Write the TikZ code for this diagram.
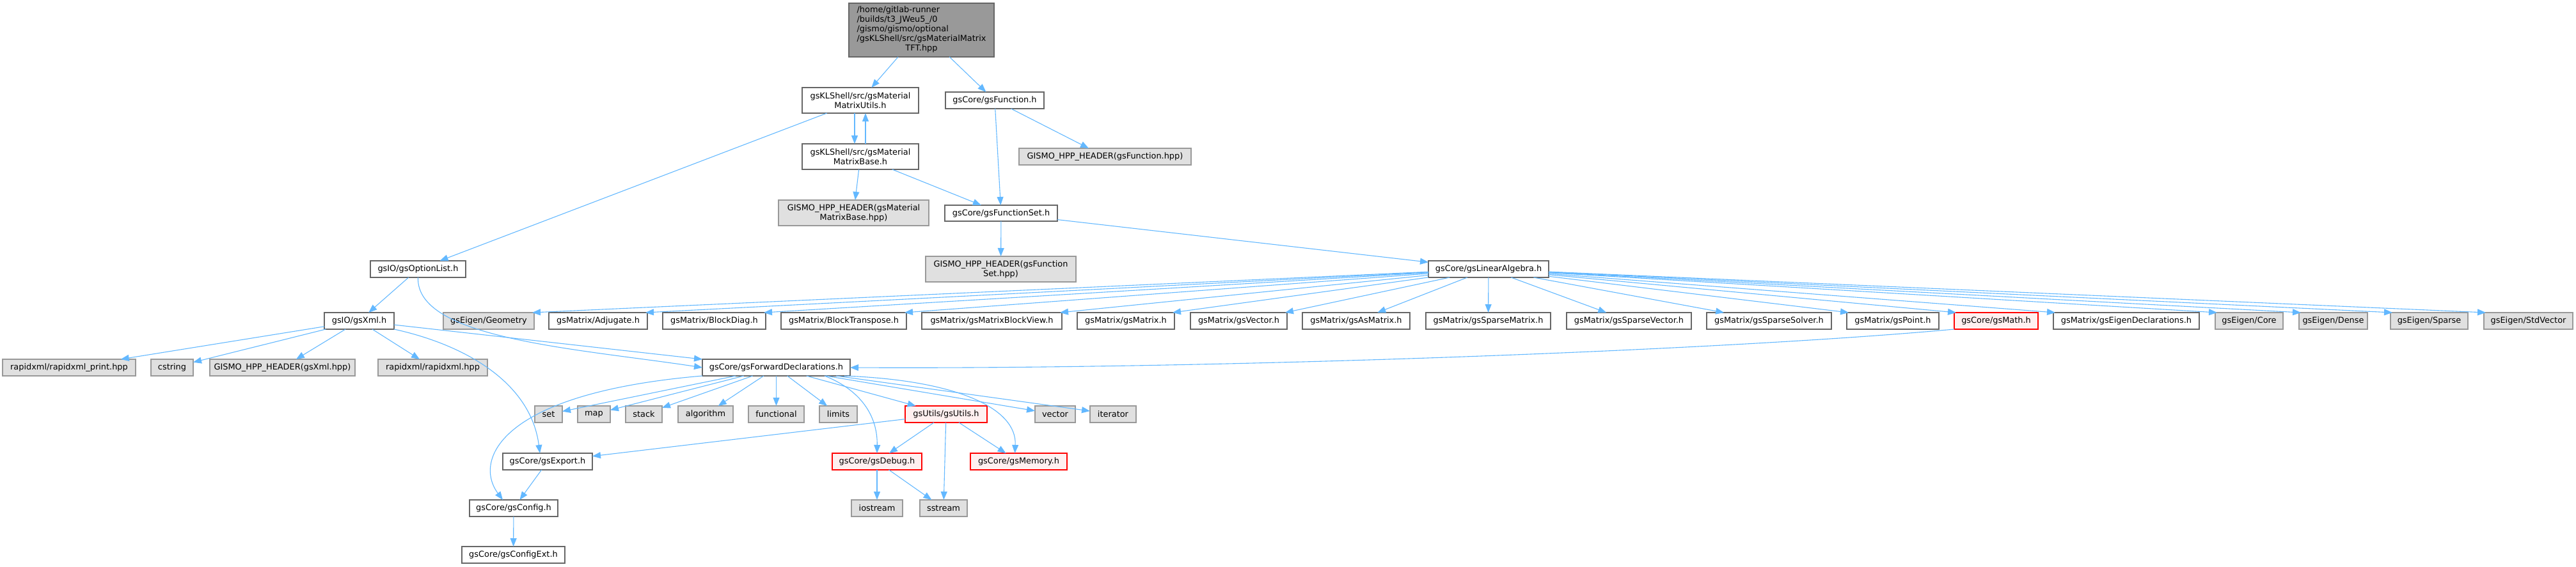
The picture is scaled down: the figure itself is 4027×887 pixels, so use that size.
\documentclass[tikz,border=0pt]{standalone}
\usepackage{fontspec}
\setmainfont{DejaVu Sans}
\usetikzlibrary{arrows.meta,calc}
\definecolor{edgec}{HTML}{63B8FF}
\definecolor{wborder}{HTML}{666666}
\definecolor{gborder}{HTML}{999999}
\definecolor{gfill}{HTML}{E0E0E0}
\definecolor{rfill}{HTML}{FFF0F0}
\definecolor{rborder}{HTML}{FF0000}
\definecolor{mfill}{HTML}{999999}
\tikzset{
  basebox/.style={rectangle, inner sep=0pt, outer sep=0pt, line width=0.8pt,
    font=\fontsize{6.45}{7.5}\selectfont, align=center},
  wbox/.style={basebox, draw=wborder, fill=white},
  gbox/.style={basebox, draw=gborder, fill=gfill},
  rbox/.style={basebox, draw=rborder, fill=rfill},
  mbox/.style={basebox, draw=wborder, fill=mfill, align=left},
  edge/.style={draw=edgec, line width=0.55pt, -{Triangle[length=6.5pt,width=5pt]}},
}
\newcommand\gn[7]{\node[#6,minimum width={(#4-#2)*0.5pt},minimum height={(#5-#3)*0.5pt}] (#1) at ({(#2+#4)/2},{(#3+#5)/2}) {#7};}
\begin{document}
\begin{tikzpicture}[x=0.5pt,y=-0.5pt]
\useasboundingbox (0,0) rectangle (4027,887);
% row 0
\gn{main}{1327}{5}{1554}{89}{mbox}{\begin{tabular}{@{}l@{}}/home/gitlab-runner\\/builds/t3\_JWeu5\_/0\\/gismo/gismo/optional\\/gsKLShell/src/gsMaterialMatrix\\\multicolumn{1}{@{}c@{}}{TFT.hpp}\end{tabular}}
% row 1-4
\gn{MU}{1254}{137}{1436}{177}{wbox}{gsKLShell/src/gsMaterial\\MatrixUtils.h}
\gn{gF}{1478}{144}{1632}{170}{wbox}{gsCore/gsFunction.h}
\gn{MB}{1254}{225}{1436}{265}{wbox}{gsKLShell/src/gsMaterial\\MatrixBase.h}
\gn{GfH}{1593}{232}{1862}{258}{gbox}{GISMO\_HPP\_HEADER(gsFunction.hpp)}
\gn{GMB}{1217}{313}{1452}{353}{gbox}{GISMO\_HPP\_HEADER(gsMaterial\\MatrixBase.hpp)}
\gn{FSet}{1477}{321}{1653}{346}{wbox}{gsCore/gsFunctionSet.h}
\gn{GFS}{1447}{401}{1682}{441}{gbox}{GISMO\_HPP\_HEADER(gsFunction\\Set.hpp)}
\gn{OL}{579}{408}{728}{434}{wbox}{gsIO/gsOptionList.h}
\gn{LA}{2233}{408}{2421}{434}{wbox}{gsCore/gsLinearAlgebra.h}
% row 5
\gn{Xml}{507}{489}{616}{515}{wbox}{gsIO/gsXml.h}
\gn{Geom}{693}{489}{835}{515}{gbox}{gsEigen/Geometry}
\gn{Adj}{858}{489}{1012}{515}{wbox}{gsMatrix/Adjugate.h}
\gn{BDiag}{1036}{489}{1197}{515}{wbox}{gsMatrix/BlockDiag.h}
\gn{BTr}{1221}{489}{1417}{515}{wbox}{gsMatrix/BlockTranspose.h}
\gn{BView}{1441}{489}{1660}{515}{wbox}{gsMatrix/gsMatrixBlockView.h}
\gn{Mat}{1684}{489}{1836}{515}{wbox}{gsMatrix/gsMatrix.h}
\gn{Vec}{1861}{489}{2012}{515}{wbox}{gsMatrix/gsVector.h}
\gn{AsM}{2036}{489}{2204}{515}{wbox}{gsMatrix/gsAsMatrix.h}
\gn{SpM}{2229}{489}{2424}{515}{wbox}{gsMatrix/gsSparseMatrix.h}
\gn{SpV}{2449}{489}{2644}{515}{wbox}{gsMatrix/gsSparseVector.h}
\gn{SpS}{2668}{489}{2863}{515}{wbox}{gsMatrix/gsSparseSolver.h}
\gn{Pt}{2887}{489}{3031}{515}{wbox}{gsMatrix/gsPoint.h}
\gn{Math}{3055}{489}{3186}{515}{rbox}{gsCore/gsMath.h}
\gn{EDecl}{3210}{489}{3438}{515}{wbox}{gsMatrix/gsEigenDeclarations.h}
\gn{ECore}{3463}{489}{3569}{515}{gbox}{gsEigen/Core}
\gn{EDense}{3594}{489}{3701}{515}{gbox}{gsEigen/Dense}
\gn{ESparse}{3737}{489}{3858}{515}{gbox}{gsEigen/Sparse}
\gn{EStd}{3883}{489}{4022}{515}{gbox}{gsEigen/StdVector}
% row 6
\gn{RXP}{4}{562}{212}{588}{gbox}{rapidxml/rapidxml\_print.hpp}
\gn{cstr}{236}{562}{302}{588}{gbox}{cstring}
\gn{GXml}{328}{562}{555}{588}{gbox}{GISMO\_HPP\_HEADER(gsXml.hpp)}
\gn{RX}{591}{562}{762}{588}{gbox}{rapidxml/rapidxml.hpp}
\gn{FD}{1098}{562}{1329}{588}{wbox}{gsCore/gsForwardDeclarations.h}
% row 7
\gn{sset}{836}{635}{879}{661}{gbox}{set}
\gn{smap}{903}{635}{954}{661}{gbox}{map}
\gn{sstack}{978}{635}{1035}{661}{gbox}{stack}
\gn{salg}{1060}{635}{1146}{661}{gbox}{algorithm}
\gn{sfun}{1170}{635}{1257}{661}{gbox}{functional}
\gn{slim}{1281}{635}{1340}{661}{gbox}{limits}
\gn{Utils}{1415}{635}{1543}{661}{rbox}{gsUtils/gsUtils.h}
\gn{svec}{1618}{635}{1681}{661}{gbox}{vector}
\gn{siter}{1704}{635}{1776}{661}{gbox}{iterator}
% row 8
\gn{Export}{786}{709}{926}{735}{wbox}{gsCore/gsExport.h}
\gn{Debug}{1301}{709}{1441}{735}{rbox}{gsCore/gsDebug.h}
\gn{Memory}{1517}{709}{1668}{735}{rbox}{gsCore/gsMemory.h}
% row 9
\gn{Config}{734}{782}{872}{808}{wbox}{gsCore/gsConfig.h}
\gn{ios}{1331}{782}{1411}{808}{gbox}{iostream}
\gn{sss}{1438}{782}{1512}{808}{gbox}{sstream}
% row 10
\gn{CExt}{722}{855}{883}{881}{wbox}{gsCore/gsConfigExt.h}

% edges
\draw[edge] (main) -- (MU);
\draw[edge] (main) -- (gF);
\draw[edge] (MU) -- (OL);
\draw[edge] ($(MU.south)+(-9,0)$) -- ($(MB.north)+(-9,0)$);
\draw[edge] ($(MB.north)+(8,0)$) -- ($(MU.south)+(8,0)$);
\draw[edge] (gF) -- (FSet);
\draw[edge] (gF) -- (GfH);
\draw[edge] (MB) -- (GMB);
\draw[edge] (MB) -- (FSet);
\draw[edge] (FSet) -- (GFS);
\draw[edge] (FSet) -- (LA);
\draw[edge] (OL) -- (Xml);
\draw[edge] (OL.south) .. controls (650,530) and (900,545) .. (FD.west);
\foreach \t in {RXP,cstr,GXml,RX,FD} \draw[edge] (Xml) -- (\t);
\draw[edge] (Xml.south east) .. controls (730,540) and (830,600) .. ($(Export.north)+(-12,0)$);
\foreach \t in {Geom,Adj,BDiag,BTr,BView,Mat,Vec} \draw[edge] (LA) -- ($(\t.north east)+(-3,0)$);
\foreach \t in {AsM,SpM,SpV,SpS} \draw[edge] (LA) -- (\t);
\foreach \t in {Pt,Math,EDecl,ECore,EDense,ESparse,EStd} \draw[edge] (LA) -- ($(\t.north west)+(3,0)$);
\draw[edge] (Math.south west) .. controls (2700,548) and (1900,578) .. (FD.east);
\foreach \t in {sset,smap,sstack,salg,sfun,slim,Utils,svec,siter} \draw[edge] (FD) -- (\t);
\draw[edge] (FD.south west) .. controls (780,615) and (740,720) .. ($(Config.north)+(-17,0)$);
\draw[edge] ($(FD.south east)+(-40,0)$) .. controls (1345,610) and (1372,650) .. (Debug.north);
\draw[edge] ($(FD.south east)+(-9,0)$) .. controls (1500,595) and (1590,640) .. ($(Memory.north)+(-6,0)$);
\foreach \t in {Export,Debug,Memory,sss} \draw[edge] (Utils) -- (\t);
\draw[edge] (Debug) -- (ios);
\draw[edge] (Debug) -- (sss);
\draw[edge] (Export) -- (Config);
\draw[edge] (Config) -- (CExt);
\end{tikzpicture}
\end{document}
